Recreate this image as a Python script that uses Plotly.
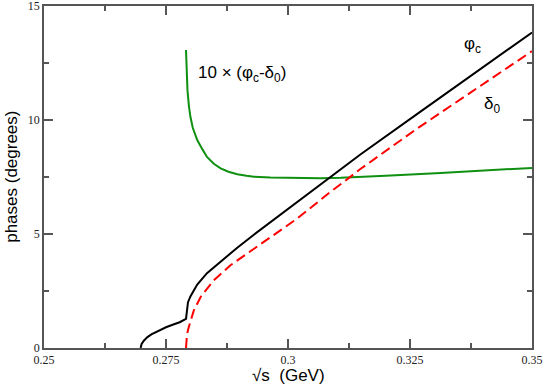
import plotly.graph_objects as go

# phi_c (black)
phi_x = [0.2698, 0.2700, 0.2705, 0.2712, 0.2720, 0.2735, 0.2750, 0.2765, 0.2778, 0.2791,
         0.27925, 0.27934, 0.2795, 0.2800, 0.2807, 0.2814, 0.2834, 0.2862, 0.2896,
         0.2930, 0.2971, 0.3005, 0.3039, 0.3077, 0.3149, 0.3265, 0.3401, 0.3500]
phi_y = [0.0, 0.18, 0.33, 0.48, 0.60, 0.77, 0.91, 1.03, 1.13, 1.28,
         1.55, 1.80, 2.00, 2.26, 2.55, 2.78, 3.28, 3.80, 4.40,
         4.97, 5.63, 6.18, 6.73, 7.35, 8.50, 10.27, 12.32, 13.84]

# delta_0 (red dashed)
del_x = [0.2791, 0.27915, 0.2793, 0.27967, 0.2802, 0.2807, 0.2821, 0.2848, 0.2882,
         0.2916, 0.2950, 0.2985, 0.3019, 0.3053, 0.3084, 0.3125, 0.3149, 0.3265,
         0.3401, 0.3500]
del_y = [0.0, 0.30, 0.60, 0.92, 1.30, 1.65, 2.24, 2.97, 3.63,
         4.14, 4.65, 5.17, 5.68, 6.26, 6.80, 7.46, 7.86, 9.63,
         11.61, 13.02]

# 10 x (phi_c - delta_0) (green)
diff_x = [0.2791, 0.27925, 0.2794, 0.2797, 0.2800, 0.2805, 0.2814, 0.2825, 0.2834,
          0.2848, 0.2862, 0.2878, 0.2896, 0.2915, 0.2930, 0.2964, 0.3000, 0.3039,
          0.3067, 0.3108, 0.3149, 0.3200, 0.3313, 0.3400, 0.3500]
diff_y = [13.07, 12.10, 11.31, 10.60, 10.14, 9.65, 9.12, 8.70, 8.38,
          8.08, 7.88, 7.73, 7.62, 7.55, 7.51, 7.48, 7.46, 7.44,
          7.45, 7.47, 7.50, 7.56, 7.68, 7.78, 7.90]

fig = go.Figure()
fig.add_trace(go.Scatter(x=diff_x, y=diff_y, mode="lines",
                         line=dict(color="#0f9010", width=2)))
fig.add_trace(go.Scatter(x=del_x, y=del_y, mode="lines",
                         line=dict(color="#ff0000", width=2, dash="10px,5px")))
fig.add_trace(go.Scatter(x=phi_x, y=phi_y, mode="lines",
                         line=dict(color="#000000", width=2)))

lbl = dict(family="Liberation Sans, Arial", size=17, color="black")
fig.add_annotation(x=0.3378, y=13.3, text="φ<sub>c</sub>", showarrow=False, font=lbl)
fig.add_annotation(x=0.3417, y=10.65, text="δ<sub>0</sub>", showarrow=False, font=lbl)
fig.add_annotation(x=0.2906, y=12.02, text="10 × (φ<sub>c</sub>-δ<sub>0</sub>)",
                   showarrow=False, font=lbl)

# axis titles placed by hand
fig.add_annotation(xref="paper", yref="paper", x=0.5, y=-0.081, yanchor="middle",
                   text="√s  (GeV)", showarrow=False, font=lbl)
fig.add_annotation(xref="paper", yref="paper", x=-0.068, y=0.5, xanchor="center",
                   textangle=-90, text="phases (degrees)", showarrow=False, font=lbl)

axis = dict(showline=True, linecolor="#555555", linewidth=1.5, mirror="ticks",
            ticks="inside", ticklen=9, tickwidth=1.5, tickcolor="#555555",
            showgrid=False, zeroline=False, automargin=False, ticklabeloverflow="allow",
            tickfont=dict(family="Liberation Serif, Times New Roman", size=12, color="#222222"))

fig.update_layout(
    width=545, height=392,
    margin=dict(l=44, r=13, t=6, b=44),
    paper_bgcolor="white", plot_bgcolor="white",
    showlegend=False,
    xaxis=dict(axis, range=[0.25, 0.35], tickvals=[0.25, 0.275, 0.3, 0.325, 0.35],
               ticktext=["0.25", "0.275", "0.3", "0.325", "0.35"],
               minor=dict(ticks="inside", ticklen=5, tickwidth=1.5, tickcolor="#555555",
                          dtick=0.0125, tick0=0.25)),
    yaxis=dict(axis, range=[0, 15], dtick=5,
               minor=dict(ticks="inside", ticklen=5, tickwidth=1.5, tickcolor="#555555",
                          dtick=2.5, tick0=0)),
)

fig.write_html("out.html", post_script="document.body.style.margin='0';",
               config={"displayModeBar": False})
